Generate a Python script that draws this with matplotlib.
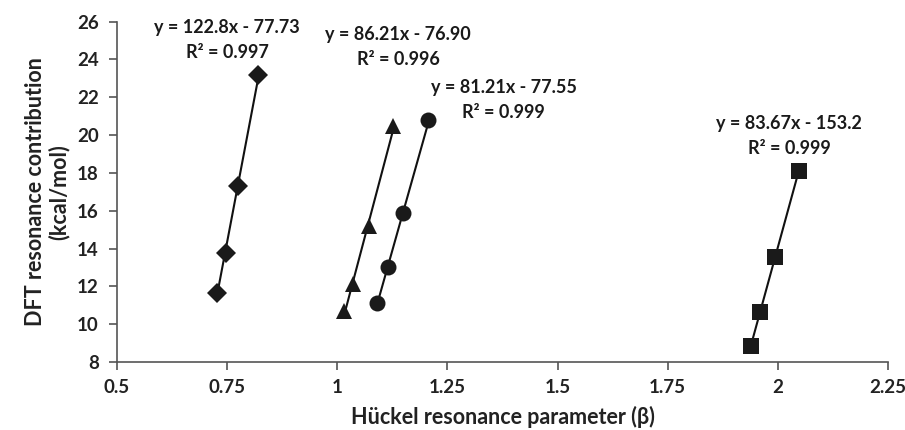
import numpy as np
import matplotlib
matplotlib.use("Agg")
import matplotlib.pyplot as plt
from matplotlib.ticker import FuncFormatter

plt.rcParams['font.family'] = ['Lato', 'DejaVu Sans']

# Data
diamond_x = [0.726, 0.747, 0.775, 0.821]
diamond_y = [11.65, 13.75, 17.28, 23.19]
triangle_x = [1.015, 1.036, 1.073, 1.127]
triangle_y = [10.71, 12.13, 15.2, 20.49]
circle_x = [1.089, 1.116, 1.150, 1.207]
circle_y = [11.1, 13.0, 15.87, 20.77]
square_x = [1.939, 1.960, 1.993, 2.048]
square_y = [8.85, 10.65, 13.56, 18.1]

eq_labels = ["y = 122.8x - 77.73\nR² = 0.997",
             "y = 86.21x - 76.90\nR² = 0.996",
             "y = 81.21x - 77.55\nR² = 0.999",
             "y = 83.67x - 153.2\nR² = 0.999"]
eq_pos = [(0.750, 25.04), (1.138, 24.64), (1.378, 21.86), (2.026, 19.96)]

x_ticks = [0.5, 0.75, 1, 1.25, 1.5, 1.75, 2, 2.25]
y_ticks = [8, 10, 12, 14, 16, 18, 20, 22, 24, 26]

fig = plt.figure(figsize=(9.05, 4.30), dpi=100)
ax = fig.add_axes([0.1293, 0.1581, 0.9812 - 0.1293, 0.95 - 0.1581])

mk = '#1a1a1a'
series = [(diamond_x, diamond_y, 'D', 10),
          (triangle_x, triangle_y, '^', 11.5),
          (circle_x, circle_y, 'o', 11.5),
          (square_x, square_y, 's', 11)]
for xs, ys, m, ms in series:
    xs = np.array(xs); ys = np.array(ys)
    k, b = np.polyfit(xs, ys, 1)
    xl = np.array([xs.min(), xs.max()])
    ax.plot(xl, k * xl + b, color='#111111', lw=1.5, zorder=2)
    ax.plot(xs, ys, linestyle='none', marker=m, ms=ms, color=mk,
            markeredgewidth=0, zorder=3)

for (tx, ty), t in zip(eq_pos, eq_labels):
    ax.text(tx, ty, t, ha='center', va='center', fontsize=13,
            fontweight='bold', color='#1a1a1a', linespacing=1.55)

ax.set_xlim(0.5, 2.25)
ax.set_ylim(8, 26)
ax.set_xticks(x_ticks)
ax.set_yticks(y_ticks)
ax.xaxis.set_major_formatter(FuncFormatter(lambda v, p: '%g' % v))
ax.yaxis.set_major_formatter(FuncFormatter(lambda v, p: '%g' % v))

for s in ['top', 'right']:
    ax.spines[s].set_visible(False)
for s in ['left', 'bottom']:
    ax.spines[s].set_color('#555555')
    ax.spines[s].set_linewidth(1.2)
ax.tick_params(axis='both', direction='out', length=6, width=1.2,
               color='#555555', labelsize=13.5, labelcolor='#222222')
ax.tick_params(axis='x', pad=6)
ax.tick_params(axis='y', pad=7)
for lab in ax.get_xticklabels() + ax.get_yticklabels():
    lab.set_fontweight('bold')

ax.set_xlabel('Hückel resonance parameter (β)', fontsize=15.5,
              fontweight='bold', color='#222222', va='center')
ax.xaxis.set_label_coords(0.5, -0.16)
ax.set_ylabel('DFT resonance contribution\n(kcal/mol)', fontsize=15.5,
              fontweight='bold', color='#222222', linespacing=1.1,
              va='center')
ax.yaxis.set_label_coords(-0.09, 0.5)

fig.savefig('out.png', dpi=100)
